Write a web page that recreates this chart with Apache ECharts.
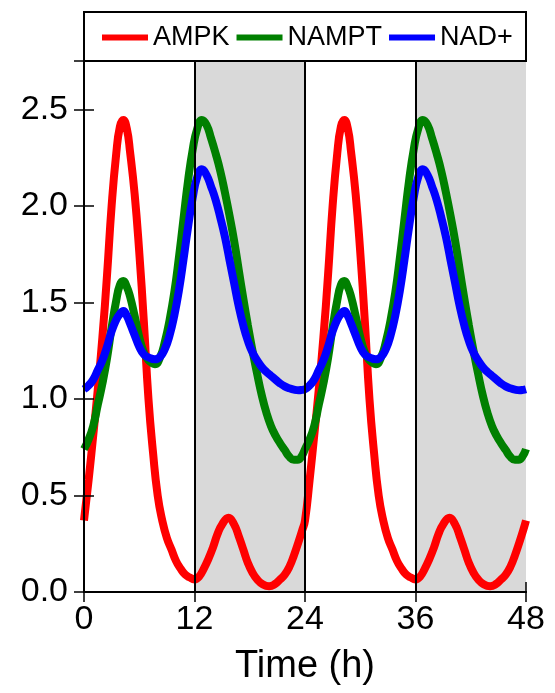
<!DOCTYPE html>
<html>
<head>
<meta charset="utf-8">
<script src="https://cdn.jsdelivr.net/npm/echarts@6/dist/echarts.min.js"></script>
<style>
html,body{margin:0;padding:0;background:#fff;}
#chart{width:555px;height:693px;}
</style>
</head>
<body>
<div id="chart"></div>
<script>
const seriesNames = ['AMPK', 'NAMPT', 'NAD+'];
const seriesColors = ['#ff0000', '#008000', '#0000ff'];

// AMPK: sample times (h) and values
const ampkTime = [
  0,0.5,1,1.5,2,2.5,3,3.5,3.9,4.27,4.65,5,5.5,6,6.5,7,7.5,8,8.5,9,9.5,10,10.5,11,11.5,
  12,12.5,13,13.5,14,14.5,15,15.7,16.3,16.8,17.3,17.8,18.3,18.8,19.4,20.1,20.7,21.3,21.8,22.3,22.8,23.3,23.7,
  24,24.5,25,25.5,26,26.5,27,27.5,27.9,28.27,28.65,29,29.5,30,30.5,31,31.5,32,32.5,33,33.5,34,34.5,35,35.5,
  36,36.5,37,37.5,38,38.5,39,39.7,40.3,40.8,41.3,41.8,42.3,42.8,43.4,44.1,44.7,45.3,45.8,46.3,46.8,47.3,47.7,48
];
const ampk = [
  0.37,0.58,0.81,1.05,1.32,1.64,2.00,2.27,2.41,2.445,2.40,2.28,2.06,1.76,1.40,1.00,0.72,0.50,0.37,0.28,0.22,0.16,0.12,0.09,0.075,
  0.065,0.08,0.12,0.17,0.23,0.30,0.35,0.385,0.35,0.29,0.22,0.15,0.10,0.065,0.04,0.03,0.04,0.065,0.09,0.13,0.19,0.26,0.32,
  0.37,0.58,0.81,1.05,1.32,1.64,2.00,2.27,2.41,2.445,2.40,2.28,2.06,1.76,1.40,1.00,0.72,0.50,0.37,0.28,0.22,0.16,0.12,0.09,0.075,
  0.065,0.08,0.12,0.17,0.23,0.30,0.35,0.385,0.35,0.29,0.22,0.15,0.10,0.065,0.04,0.03,0.04,0.065,0.09,0.13,0.19,0.26,0.32,0.37
];

// NAMPT
const namptTime = [
  0,0.5,1,1.5,2,2.5,3,3.5,3.9,4.27,4.65,5,5.5,6,6.5,7,7.7,8.3,8.8,9.3,9.8,10.3,10.8,11.3,11.8,12.3,12.8,13.3,13.8,
  14.3,14.8,15.3,15.8,16.3,16.8,17.3,17.8,18.3,18.8,19.3,19.8,20.3,20.8,21.3,21.8,22.3,22.8,23.2,23.6,
  24,24.5,25,25.5,26,26.5,27,27.5,27.9,28.27,28.65,29,29.5,30,30.5,31,31.7,32.3,32.8,33.3,33.8,34.3,34.8,35.3,35.8,36.3,36.8,37.3,37.8,
  38.3,38.8,39.3,39.8,40.3,40.8,41.3,41.8,42.3,42.8,43.3,43.8,44.3,44.8,45.3,45.8,46.3,46.8,47.2,47.6,48
];
const nampt = [
  0.74,0.79,0.86,0.97,1.08,1.21,1.37,1.51,1.59,1.61,1.58,1.53,1.43,1.32,1.24,1.20,1.18,1.22,1.30,1.41,1.55,1.73,1.93,2.13,2.29,2.40,2.445,2.42,2.35,
  2.27,2.18,2.07,1.95,1.82,1.67,1.52,1.38,1.25,1.13,1.02,0.93,0.86,0.81,0.77,0.735,0.70,0.685,0.685,0.70,
  0.74,0.79,0.86,0.97,1.08,1.21,1.37,1.51,1.59,1.61,1.58,1.53,1.43,1.32,1.24,1.20,1.18,1.22,1.30,1.41,1.55,1.73,1.93,2.13,2.29,2.40,2.445,2.42,2.35,
  2.27,2.18,2.07,1.95,1.82,1.67,1.52,1.38,1.25,1.13,1.02,0.93,0.86,0.81,0.77,0.735,0.70,0.685,0.685,0.70,0.74
];

// NAD+
const nadTime = [
  0,0.5,1,1.5,2,2.5,3,3.5,3.9,4.27,4.65,5,5.5,6,6.5,7,7.7,8.3,8.8,9.3,9.8,10.3,10.8,11.3,11.8,12.3,12.8,13.3,13.8,
  14.3,14.8,15.3,15.8,16.3,16.8,17.3,17.8,18.3,18.8,19.3,19.8,20.3,20.8,21.3,21.8,22.3,22.8,23.3,23.7,
  24,24.5,25,25.5,26,26.5,27,27.5,27.9,28.27,28.65,29,29.5,30,30.5,31,31.7,32.3,32.8,33.3,33.8,34.3,34.8,35.3,35.8,36.3,36.8,37.3,37.8,
  38.3,38.8,39.3,39.8,40.3,40.8,41.3,41.8,42.3,42.8,43.3,43.8,44.3,44.8,45.3,45.8,46.3,46.8,47.3,47.7,48
];
const nad = [
  1.05,1.07,1.10,1.15,1.20,1.27,1.35,1.41,1.44,1.455,1.43,1.39,1.33,1.27,1.23,1.215,1.205,1.22,1.26,1.33,1.43,1.56,1.72,1.89,2.04,2.15,2.19,2.16,2.10,
  2.03,1.94,1.84,1.72,1.60,1.48,1.38,1.30,1.24,1.20,1.165,1.14,1.12,1.10,1.08,1.065,1.055,1.048,1.045,1.047,
  1.05,1.07,1.10,1.15,1.20,1.27,1.35,1.41,1.44,1.455,1.43,1.39,1.33,1.27,1.23,1.215,1.205,1.22,1.26,1.33,1.43,1.56,1.72,1.89,2.04,2.15,2.19,2.16,2.10,
  2.03,1.94,1.84,1.72,1.60,1.48,1.38,1.30,1.24,1.20,1.165,1.14,1.12,1.10,1.08,1.065,1.055,1.048,1.045,1.047,1.05
];

const xTicks = [0, 12, 24, 36, 48];
const darkPeriods = [[12, 24], [36, 48]];
const boundaryLines = [12, 24, 36];
const xTitle = 'Time (h)';

const FONT = '"Liberation Sans", Arial, sans-serif';
const pair = (ts, vs) => ts.map((t, i) => [t, vs[i]]);
const seriesData = [pair(ampkTime, ampk), pair(namptTime, nampt), pair(nadTime, nad)];

const chart = echarts.init(document.getElementById('chart'), null, {renderer: 'canvas'});

const axisLine = {show: true, lineStyle: {color: '#000', width: 2}};
const tick = {show: true, inside: true, length: 10, lineStyle: {color: '#000', width: 1.5}};

const option = {
  animation: false,
  backgroundColor: '#fff',
  grid: {left: 84, right: 29, top: 61, bottom: 101, containLabel: false},
  graphic: [{
    type: 'rect', z: 10,
    shape: {x: 84, y: 12, width: 442, height: 49},
    style: {fill: 'transparent', stroke: '#000', lineWidth: 2}
  }],
  legend: {
    data: seriesNames,
    left: 97, top: 19,
    icon: 'rect', itemWidth: 46, itemHeight: 6, itemGap: 7,
    textStyle: {fontFamily: FONT, fontSize: 27, color: '#000'}
  },
  xAxis: [{
    type: 'value', position: 'bottom', min: xTicks[0], max: xTicks[xTicks.length - 1], interval: 12,
    z: 5,
    axisLine: axisLine, axisTick: tick, splitLine: {show: false},
    axisLabel: {fontFamily: FONT, fontSize: 34, color: '#000', margin: 11,
      formatter: v => xTicks.includes(v) ? String(v) : ''},
    name: xTitle, nameLocation: 'middle', nameGap: 56,
    nameTextStyle: {fontFamily: FONT, fontSize: 38, color: '#000'}
  }, {
    type: 'value', position: 'top', min: 0, max: 48, interval: 12, z: 5,
    axisLine: axisLine, axisTick: tick, axisLabel: {show: false}, splitLine: {show: false}
  }],
  yAxis: [{
    type: 'value', position: 'left', min: 0, max: 2.75, interval: 0.5, z: 5,
    axisLine: axisLine, axisTick: tick, splitLine: {show: false},
    axisLabel: {fontFamily: FONT, fontSize: 34, color: '#000', margin: 16,
      formatter: v => (Math.abs(v * 2 - Math.round(v * 2)) < 1e-6 && v <= 2.5) ? v.toFixed(1) : ''}
  }, {
    type: 'value', position: 'right', min: 0, max: 2.75, interval: 0.5, z: 5,
    axisLine: axisLine, axisTick: tick, axisLabel: {show: false}, splitLine: {show: false}
  }],
  series: [
    {
      name: '_shade', type: 'line', data: [], z: 1, silent: true,
      markArea: {silent: true, itemStyle: {color: '#d9d9d9'},
        data: darkPeriods.map(p => [{xAxis: p[0]}, {xAxis: p[1]}])}
    },
    {
      name: '_lines', type: 'line', data: [], z: 2, silent: true,
      markLine: {silent: true, symbol: ['none', 'none'], label: {show: false},
        lineStyle: {color: '#000', width: 2, type: 'solid'},
        data: boundaryLines.map(x => ({xAxis: x}))}
    }
  ].concat(seriesNames.map((n, k) => ({
    name: n, type: 'line', data: seriesData[k], z: 3,
    smooth: 0.5, showSymbol: false, symbol: 'none',
    color: seriesColors[k],
    lineStyle: {color: seriesColors[k], width: 8},
    itemStyle: {color: seriesColors[k]}
  })))
};
chart.setOption(option);
</script>
</body>
</html>
